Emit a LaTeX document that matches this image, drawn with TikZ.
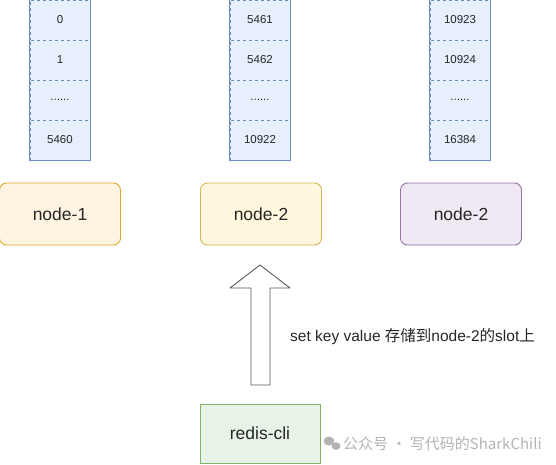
\documentclass[tikz,border=0pt]{standalone}
\usepackage{fontspec}
\setmainfont{Liberation Sans}
\newfontfamily\cjk{Noto Sans CJK SC}
\usetikzlibrary{patterns}
\definecolor{slotfill}{HTML}{E6EFFB}
\definecolor{slotdraw}{HTML}{6C8EBF}
\definecolor{orgfill}{HTML}{FFF3E2}
\definecolor{orgdraw}{HTML}{E0A828}
\definecolor{yelfill}{HTML}{FFF8DE}
\definecolor{yeldraw}{HTML}{D6B656}
\definecolor{purfill}{HTML}{F0E8F3}
\definecolor{purdraw}{HTML}{9673A6}
\definecolor{grnfill}{HTML}{E8F3E7}
\definecolor{grndraw}{HTML}{82B366}
\definecolor{wm}{HTML}{B4B4B4}
\tikzset{
  slot/.style={draw=slotdraw, dashed, fill=slotfill, minimum width=60pt, minimum height=40pt, inner sep=0pt,
    font=\fontsize{11.5}{13}\selectfont, text=black!85},
  colbox/.style={draw=slotdraw, line width=0.8pt},
  srv/.style={draw=#1draw, fill=#1fill, line width=0.9pt, rounded corners=7pt, minimum width=121pt, minimum height=62pt,
    inner sep=0pt, font=\fontsize{17.5}{20}\selectfont, text=black!85},
  cli/.style={draw=grndraw, fill=grnfill, line width=0.9pt, minimum width=120pt, minimum height=59pt,
    inner sep=0pt, font=\fontsize{17.5}{20}\selectfont, text=black!85},
  blockarrow/.style={draw=black!65, fill=white, line width=0.9pt, line join=round},
  lbl/.style={font=\fontsize{15.5}{18}\selectfont, text=black!85, anchor=west, inner sep=0pt},
  water/.style={font=\cjk\fontsize{15}{18}\selectfont, text=wm, anchor=west, inner sep=0pt}
}
\begin{document}
\begin{tikzpicture}[x=1pt,y=-1pt]
\useasboundingbox (0,0) rectangle (556,465);
% slot columns
\foreach \cx/\a/\b/\c/\d/\nm in {60/0/1/{......}/5460/a, 260/5461/5462/{......}/10922/b, 460/10923/10924/{......}/16384/c}{
  \node[slot] (\nm1) at (\cx,20) {\a};
  \node[slot] (\nm2) at (\cx,60) {\b};
  \node[slot] (\nm3) at (\cx,100) {\c};
  \node[slot] (\nm4) at (\cx,140) {\d};
  \draw[colbox] (\nm1.north west) -- (\nm4.south west) -- (\nm4.south east) -- (\nm1.north east);
}
% servers
\node[srv=org] (n1) at (60,214) {node-1};
\node[srv=yel] (n2) at (261,214) {node-2};
\node[srv=pur] (n3) at (461,214) {node-2};
% client
\node[cli] (cli) at (260,433.5) {redis-cli};
% block arrow
\coordinate (tip) at (260,265);
\draw[blockarrow] (tip) -- (290,288) -- (270,288) -- (270,385) -- (251,385) -- (251,288) -- (230,288) -- cycle;
\node[lbl] (msg) at (290,337) {set key value {\cjk 存储到}node-2{\cjk 的}slot{\cjk 上}};
% watermark
\fill[wm] (329,441) ellipse (5.5pt and 4.5pt);
\fill[wm] (336,446) ellipse (4.5pt and 3.8pt);
\node[water] (wmk) at (343,443.5) {公众号 · 写代码的SharkChili};
\end{tikzpicture}
\end{document}
